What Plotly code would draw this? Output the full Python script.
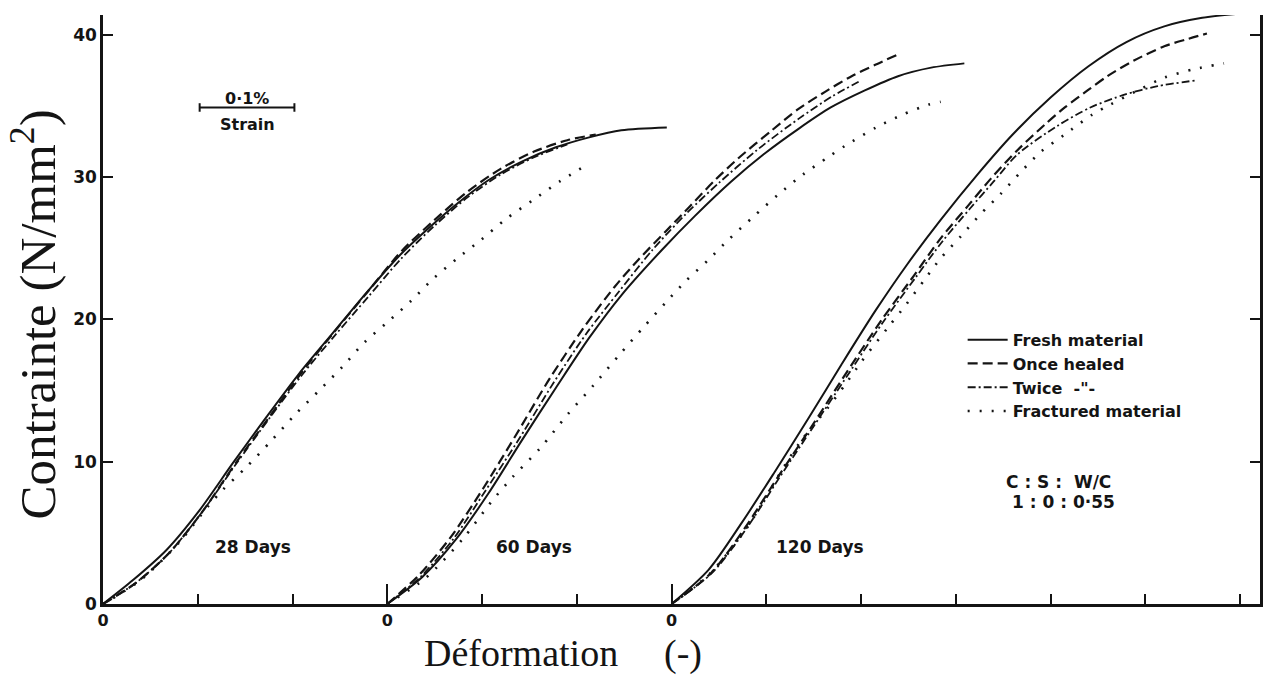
import plotly.graph_objects as go

# ---------------- data (strain in %, stress in N/mm2) ----------------
# 28 days (origin 0.0)
d28_fresh_x = [0, 0.032, 0.067, 0.102, 0.137, 0.172, 0.207, 0.242, 0.277, 0.313, 0.345, 0.373, 0.407, 0.442, 0.478, 0.513, 0.547, 0.595]
d28_fresh_y = [0, 1.7, 3.8, 6.6, 9.9, 13.1, 16.2, 19.0, 21.8, 24.5, 26.5, 28.1, 29.8, 31.1, 32.1, 32.8, 33.3, 33.5]
d28_once_x = [0, 0.035, 0.07, 0.105, 0.14, 0.175, 0.21, 0.245, 0.28, 0.315, 0.35, 0.385, 0.42, 0.455, 0.49, 0.52]
d28_once_y = [0, 1.5, 3.6, 6.5, 9.9, 13.1, 16.3, 19.2, 22.0, 24.8, 27.0, 29.0, 30.6, 31.8, 32.6, 33.0]
d28_twice_x = [0, 0.035, 0.07, 0.105, 0.14, 0.175, 0.21, 0.245, 0.28, 0.315, 0.35, 0.385, 0.42, 0.455, 0.49]
d28_twice_y = [0, 1.5, 3.6, 6.5, 9.8, 13.0, 16.1, 18.9, 21.6, 24.3, 26.6, 28.6, 30.2, 31.4, 32.3]
d28_frac_x = [0, 0.04, 0.08, 0.11, 0.126, 0.151, 0.178, 0.204, 0.231, 0.253, 0.276, 0.3, 0.325, 0.349, 0.374, 0.399, 0.426, 0.454, 0.482, 0.509]
d28_frac_y = [0, 1.7, 4.3, 6.8, 8.0, 9.6, 11.5, 13.4, 15.2, 16.7, 18.4, 19.8, 21.3, 22.9, 24.3, 25.6, 27.1, 28.4, 29.7, 30.8]

# 60 days (origin 0.3)
d60_fresh_x = [0.3, 0.337, 0.372, 0.407, 0.442, 0.478, 0.513, 0.547, 0.59, 0.625, 0.663, 0.699, 0.734, 0.768, 0.804, 0.839, 0.874, 0.909]
d60_fresh_y = [0, 1.9, 4.5, 7.8, 11.5, 15.2, 18.7, 21.7, 24.9, 27.3, 29.7, 31.7, 33.4, 34.9, 36.1, 37.1, 37.7, 38.0]
d60_once_x = [0.3, 0.333, 0.367, 0.401, 0.436, 0.471, 0.506, 0.54, 0.565, 0.594, 0.62, 0.646, 0.67, 0.706, 0.734, 0.762, 0.79, 0.815, 0.838]
d60_once_y = [0, 2.0, 4.7, 8.1, 11.9, 15.8, 19.3, 22.3, 24.2, 26.2, 28.0, 29.8, 31.3, 33.3, 34.8, 36.0, 37.1, 37.9, 38.6]
d60_twice_x = [0.3, 0.335, 0.37, 0.404, 0.44, 0.475, 0.51, 0.545, 0.58, 0.615, 0.65, 0.69, 0.734, 0.77, 0.8]
d60_twice_y = [0, 1.9, 4.6, 8.0, 11.7, 15.5, 19.0, 22.0, 24.9, 27.4, 29.6, 31.9, 34.1, 35.7, 36.8]
d60_frac_x = [0.3, 0.34, 0.38, 0.41, 0.432, 0.462, 0.49, 0.518, 0.546, 0.571, 0.594, 0.615, 0.639, 0.66, 0.686, 0.713, 0.739, 0.765, 0.783, 0.816, 0.844, 0.871, 0.884]
d60_frac_y = [0, 1.8, 4.6, 7.2, 8.9, 11.0, 13.3, 15.4, 17.6, 19.5, 21.2, 22.7, 24.2, 25.6, 27.2, 28.8, 30.2, 31.4, 32.2, 33.5, 34.4, 35.1, 35.3]

# 120 days (origin 0.6)
d120_fresh_x = [0.6, 0.639, 0.674, 0.709, 0.744, 0.779, 0.815, 0.849, 0.884, 0.923, 0.96, 1.0, 1.04, 1.08, 1.12, 1.16, 1.2]
d120_fresh_y = [0, 2.4, 5.7, 9.3, 13.0, 16.8, 20.6, 23.9, 27.0, 30.2, 33.0, 35.6, 37.8, 39.5, 40.6, 41.2, 41.5]
d120_once_x = [0.6, 0.642, 0.678, 0.713, 0.749, 0.785, 0.821, 0.856, 0.884, 0.913, 0.937, 0.965, 0.994, 1.015, 1.039, 1.06, 1.088, 1.12, 1.144, 1.165]
d120_once_y = [0, 2.2, 5.4, 9.0, 12.6, 16.3, 19.9, 23.1, 25.7, 28.0, 29.9, 31.9, 33.7, 34.9, 36.1, 37.1, 38.2, 39.2, 39.7, 40.1]
d120_twice_x = [0.6, 0.643, 0.679, 0.714, 0.75, 0.786, 0.822, 0.857, 0.886, 0.915, 0.94, 0.965, 1.007, 1.042, 1.078, 1.113, 1.153]
d120_twice_y = [0, 2.2, 5.3, 8.9, 12.5, 16.1, 19.7, 22.9, 25.5, 27.8, 29.7, 31.6, 33.6, 34.9, 35.8, 36.4, 36.8]
d120_frac_x = [0.6, 0.64, 0.68, 0.72, 0.737, 0.765, 0.783, 0.8, 0.828, 0.847, 0.867, 0.884, 0.906, 0.926, 0.947, 0.969, 0.99, 1.015, 1.044, 1.063, 1.095, 1.12, 1.152, 1.183]
d120_frac_y = [0, 2.1, 5.4, 9.8, 11.5, 13.8, 15.4, 17.0, 19.4, 21.0, 22.8, 24.3, 25.9, 27.4, 28.8, 30.4, 31.8, 33.0, 34.4, 35.1, 36.2, 37.0, 37.6, 38.0]

series_names = ["Fresh material", "Once healed", 'Twice  -"-', "Fractured material"]
day_labels = ["28 Days", "60 Days", "120 Days"]
day_label_x = [0.158, 0.455, 0.757]
day_label_y = [4.0, 4.0, 4.0]
x_tick_vals = [0, 0.3, 0.6]
x_tick_text = ["0", "0", "0"]
y_tick_vals = [0, 10, 20, 30, 40]
y_tick_text = ["0", "10", "20", "30", "40"]
scale_bar_x = [0.102, 0.202]
scale_bar_y = 34.9

INK = "#141414"
styles = [
    dict(color=INK, width=2.0, dash="solid"),
    dict(color=INK, width=2.2, dash="10px,5px"),
    dict(color=INK, width=1.8, dash="8px,3px,2px,3px"),
    dict(color=INK, width=2.6, dash="2px,10px"),
]

groups = [
    [(d28_fresh_x, d28_fresh_y), (d28_once_x, d28_once_y), (d28_twice_x, d28_twice_y), (d28_frac_x, d28_frac_y)],
    [(d60_fresh_x, d60_fresh_y), (d60_once_x, d60_once_y), (d60_twice_x, d60_twice_y), (d60_frac_x, d60_frac_y)],
    [(d120_fresh_x, d120_fresh_y), (d120_once_x, d120_once_y), (d120_twice_x, d120_twice_y), (d120_frac_x, d120_frac_y)],
]

fig = go.Figure()
for gi, grp in enumerate(groups):
    for si, (xs, ys) in enumerate(grp):
        fig.add_trace(go.Scatter(
            x=xs, y=ys, mode="lines",
            line=dict(shape="spline", smoothing=0.8, **styles[si]),
            name=series_names[si], legendgroup=series_names[si],
            showlegend=(gi == 0), hoverinfo="skip",
        ))

label_font = dict(family="DejaVu Sans", size=17, color=INK, weight="bold")
title_font = dict(family="Liberation Serif", size=38, color=INK)
annotations = []
for t, x, y in zip(day_labels, day_label_x, day_label_y):
    annotations.append(dict(x=x, y=y, xref="x", yref="y", text=t, showarrow=False, font=label_font,
                            xanchor="center", yanchor="middle"))
annotations += [
    dict(x=(scale_bar_x[0] + scale_bar_x[1]) / 2, y=35.5, xref="x", yref="y", text="0·1%",
         showarrow=False, font=dict(family="DejaVu Sans", size=16, color=INK, weight="bold"),
         xanchor="center", yanchor="middle"),
    dict(x=(scale_bar_x[0] + scale_bar_x[1]) / 2, y=33.7, xref="x", yref="y", text="Strain",
         showarrow=False, font=dict(family="DejaVu Sans", size=16, color=INK, weight="bold"),
         xanchor="center", yanchor="middle"),
    dict(x=0.951, y=8.6, xref="x", yref="y", text="C : S :  W/C", showarrow=False, xanchor="left", yanchor="middle",
         font=dict(family="DejaVu Sans", size=17, color=INK, weight="bold")),
    dict(x=0.957, y=7.2, xref="x", yref="y", text="1 : 0 : 0·55", showarrow=False, xanchor="left", yanchor="middle",
         font=dict(family="DejaVu Sans", size=17, color=INK, weight="bold")),
    dict(x=-0.06, y=0.4907, xref="paper", yref="paper", text="Contrainte (N/mm<sup>2</sup>)", textangle=-90,
         xanchor="center", yanchor="middle",
         showarrow=False, font=dict(family="Liberation Serif", size=51, color=INK)),
    dict(x=0.3616, y=-0.084, xref="paper", yref="paper", text="Déformation",
         xanchor="center", yanchor="middle", showarrow=False, font=title_font),
    dict(x=0.5017, y=-0.084, xref="paper", yref="paper", text="(-)",
         xanchor="center", yanchor="middle", showarrow=False, font=title_font),
]

shapes = [
    dict(type="line", xref="x", yref="y", x0=scale_bar_x[0], x1=scale_bar_x[1], y0=scale_bar_y, y1=scale_bar_y,
         line=dict(color=INK, width=2)),
    dict(type="line", xref="x", yref="y", x0=scale_bar_x[0], x1=scale_bar_x[0], y0=scale_bar_y - 0.3, y1=scale_bar_y + 0.3,
         line=dict(color=INK, width=2)),
    dict(type="line", xref="x", yref="y", x0=scale_bar_x[1], x1=scale_bar_x[1], y0=scale_bar_y - 0.3, y1=scale_bar_y + 0.3,
         line=dict(color=INK, width=2)),
]

ytick_font = dict(family="DejaVu Sans", size=17, color=INK, weight="bold")
xtick_font = dict(family="DejaVu Sans", size=16, color=INK, weight="bold")

fig.update_layout(
    width=1272, height=676,
    margin=dict(l=103, r=9, t=15, b=72),
    paper_bgcolor="white", plot_bgcolor="white",
    showlegend=True,
    legend=dict(x=0.743, y=0.4775, xanchor="left", yanchor="top", bgcolor="rgba(0,0,0,0)",
                font=dict(family="DejaVu Sans", size=16, color=INK, weight="bold"),
                tracegroupgap=0, itemwidth=40),
    annotations=annotations,
    shapes=shapes,
    xaxis=dict(range=[0, 1.221], showgrid=False, zeroline=False, showline=True, linecolor=INK, linewidth=2.5,
               ticks="inside", ticklen=20, tickwidth=2, tickcolor=INK,
               tickvals=x_tick_vals, ticktext=x_tick_text, tickfont=xtick_font,
               minor=dict(dtick=0.1, tick0=0, ticks="inside", ticklen=10, tickwidth=2, tickcolor=INK, showgrid=False)),
    yaxis=dict(range=[0, 41.4], showgrid=False, zeroline=False, showline=True, linecolor=INK, linewidth=2.5,
               mirror="ticks", ticks="inside", ticklen=10, tickwidth=2, tickcolor=INK,
               tickvals=y_tick_vals, ticktext=y_tick_text, tickfont=ytick_font),
)

# remove the default page margin so the 1272x676 figure fills the window exactly
fig.write_html("out.html", config={"displayModeBar": False},
               post_script="document.body.style.margin='0';document.body.style.overflow='hidden';")
